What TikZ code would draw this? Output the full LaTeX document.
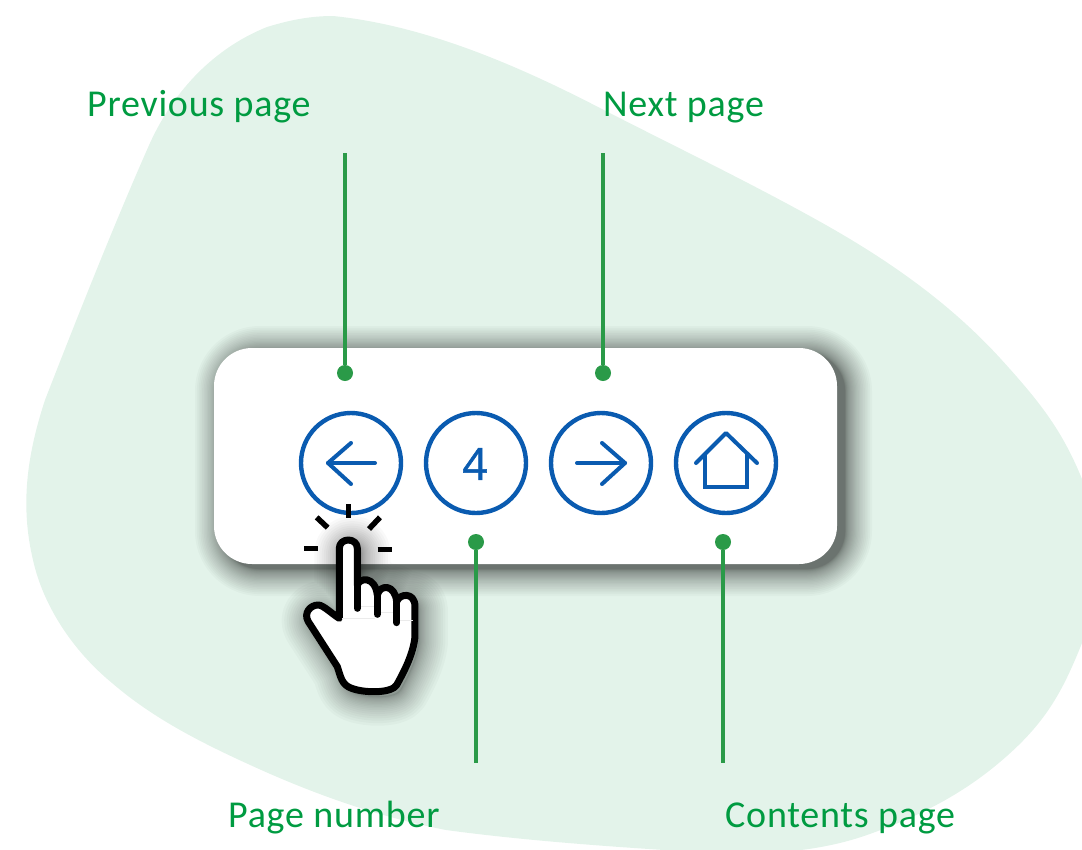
\documentclass[tikz,border=0pt]{standalone}
\usepackage{fontspec}
\setmainfont{Carlito}
\newfontfamily\digitfont[FakeBold=1.3]{Open Sans}
\definecolor{blobgreen}{RGB}{227,243,234}
\definecolor{labelgreen}{RGB}{0,155,65}
\definecolor{linegreen}{RGB}{42,154,72}
\definecolor{iconblue}{RGB}{10,91,176}
\newcommand{\handoutline}{(205,150) .. controls (220,150) and (232,160) .. (232,175) -- (232,285) .. controls (240,262) and (285,258) .. (292,315) .. controls (300,282) and (345,282) .. (350,335) .. controls (358,310) and (405,305) .. (405,350) -- (405,440) .. controls (400,490) and (375,540) .. (350,585) .. controls (335,610) and (255,610) .. (215,595) .. controls (185,585) and (182,560) .. (172,530) -- (85,395) .. controls (70,370) and (90,345) .. (115,345) .. controls (130,345) and (160,375) .. (178,385) -- (178,175) .. controls (178,160) and (190,150) .. (205,150) -- cycle}
\tikzset{
  labeltext/.style={anchor=base west,inner sep=0pt,text=labelgreen,font=\fontsize{38}{38}\selectfont\addfontfeatures{LetterSpace=2}},
  leader/.style={draw=linegreen,line width=3.6pt},
  leaderdot/.style={circle,fill=linegreen,minimum size=16pt,inner sep=0pt},
  iconring/.style={circle,draw=iconblue,line width=4.4pt,minimum size=100pt,inner sep=0pt,fill=white},
  iconline/.style={draw=iconblue,line width=4pt,line cap=round,line join=round},
  spark/.style={draw=black,line width=5.5pt},
  handzoom/.style={shift={(280pt,-490pt)},x=0.3333pt,y=-0.3333pt}
}
\begin{document}
\begin{tikzpicture}[x=1pt,y=-1pt]
\useasboundingbox (0,0) rectangle (1082,849);
\clip (0,0) rectangle (1082,849);
% blob
\fill[blobgreen] (333,16)
  .. controls (423,25) and (515,64) .. (600,108)
  .. controls (672,145) and (745,180) .. (817,220)
  .. controls (880,255) and (945,298) .. (1000,358)
  .. controls (1040,402) and (1062,430) .. (1082,479)
  .. controls (1102,529) and (1102,593) .. (1082,643)
  .. controls (1062,693) and (1045,724) .. (1000,762)
  .. controls (960,796) and (915,818) .. (867,835)
  .. controls (810,855) and (745,856) .. (680,851)
  .. controls (600,846) and (520,840) .. (446,830)
  .. controls (385,818) and (330,800) .. (268,773)
  .. controls (205,745) and (155,720) .. (112,683)
  .. controls (72,650) and (43,605) .. (33,560)
  .. controls (20,505) and (27,455) .. (45,400)
  .. controls (80,310) and (118,215) .. (150,143)
  .. controls (178,82) and (222,45) .. (267,27)
  .. controls (290,20) and (310,16) .. (333,16) -- cycle;
% card shadow
\foreach \i in {1,...,28}{
  \pgfmathsetmacro{\e}{27*(\i/28)*(\i/28)}
  \fill[black,opacity=0.024,rounded corners={(38+\e)*1pt}]
    ({214+8-\e},{348+5-\e}) rectangle ({837+8+\e},{564+5+\e});
}
% card
\node[draw=none,fill=white,rounded corners=38pt,minimum width=623pt,minimum height=216pt,inner sep=0pt] (card) at (525.5,456) {};
% icons
\node[iconring] (prevbtn) at (351,463) {};
\node[iconring] (numbtn) at (476,463) {};
\node[iconring] (nextbtn) at (601,463) {};
\node[iconring] (homebtn) at (726,463) {};
\node[inner sep=0pt,text=iconblue,font=\digitfont\fontsize{44}{44}\selectfont] (numtext) at (475,464) {4};
\draw[iconline] (375,463) -- (328,463);
\draw[iconline] (351,443) -- (328,463) -- (351,484);
\draw[iconline] (577,463) -- (625,463);
\draw[iconline] (602,443) -- (625,463) -- (602,484);
\draw[iconline] (696,463) -- (726,433) -- (757,463);
\draw[iconline,line cap=butt,line join=miter] (705,453) -- (705,487) -- (747,487) -- (747,453);
% leaders
\coordinate (prevtop) at (345,153);
\coordinate (nexttop) at (603,153);
\coordinate (numend) at (476,763);
\coordinate (homeend) at (723,763);
\node[leaderdot] (prevdot) at (345,373) {};
\node[leaderdot] (nextdot) at (603,373) {};
\node[leaderdot] (numdot) at (476,542) {};
\node[leaderdot] (homedot) at (723,542) {};
\draw[leader] (prevtop) -- (prevdot);
\draw[leader] (nexttop) -- (nextdot);
\draw[leader] (numdot) -- (numend);
\draw[leader] (homedot) -- (homeend);
% labels
\node[labeltext] (prevlabel) at (87,116) {Previous page};
\node[labeltext] (nextlabel) at (603,116) {Next page};
\node[labeltext] (numlabel) at (228,827) {Page number};
\node[labeltext] (homelabel) at (725,827) {Contents page};
% hand shadow
\begin{scope}[shift={(4pt,-5pt)}]
\begin{scope}[handzoom]
\foreach \i in {1,...,22}{
  \pgfmathsetmacro{\e}{58*(\i/22)*(\i/22)}
  \draw[black,opacity=0.024,line join=round,line width=\e pt] \handoutline;
}
\end{scope}
\end{scope}
% hand
\begin{scope}[handzoom]
\draw[draw=black,fill=white,line width=7pt,line join=round] \handoutline;
\draw[black!8,line width=0.5pt] (240,350) -- (285,350) (300,367) -- (343,367) (186,385) -- (285,385) (358,390) -- (398,390);
\draw[black,line width=7pt,line cap=round] (232,275) -- (232,355);
\draw[black,line width=7pt,line cap=round] (292,310) -- (292,373);
\draw[black,line width=7pt,line cap=round] (350,330) -- (350,398);
\draw[spark] (205,42) -- (205,85);
\draw[spark] (110,82) -- (143,113);
\draw[spark] (300,82) -- (267,117);
\draw[spark] (72,176) -- (114,176);
\draw[spark] (293,179) -- (335,179);
\end{scope}
\end{tikzpicture}
\end{document}
